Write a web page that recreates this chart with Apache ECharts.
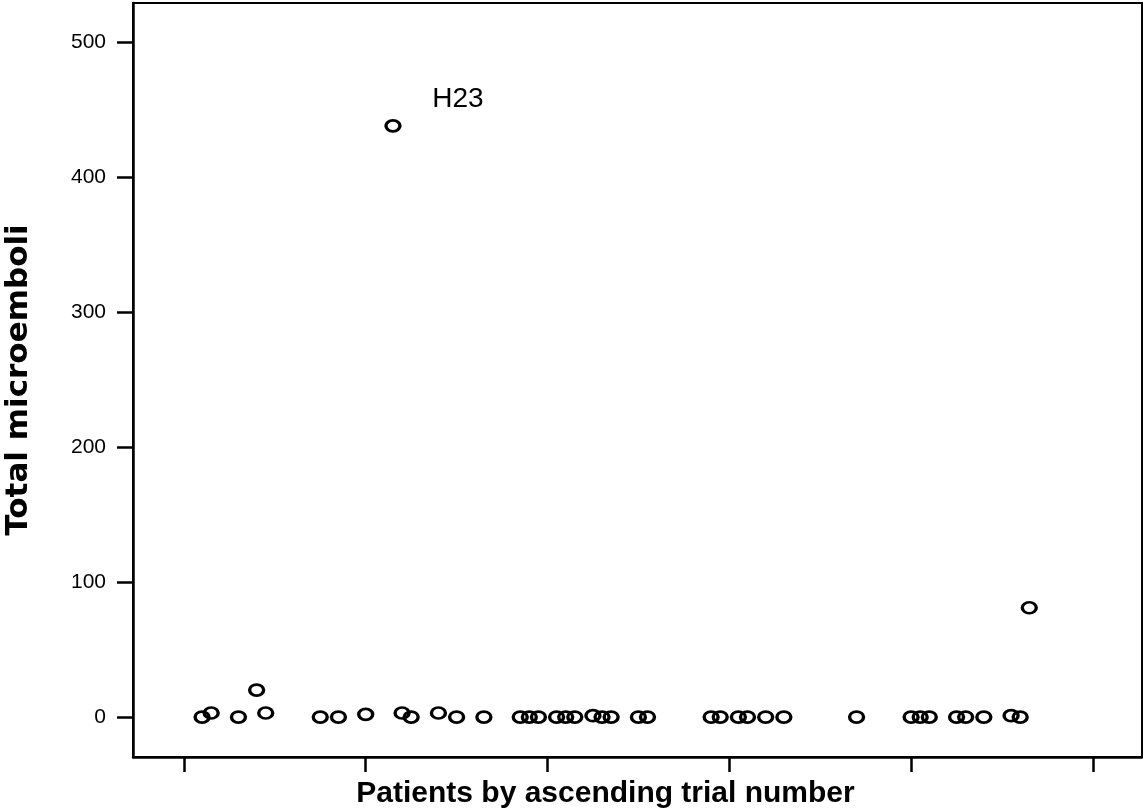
<!DOCTYPE html>
<html>
<head>
<meta charset="utf-8">
<script src="https://cdn.jsdelivr.net/npm/echarts@6/dist/echarts.min.js"></script>
<style>
	html, body { margin: 0; padding: 0; background: #fff; }
	#main { width: 1143px; height: 810px; }
</style>
</head>
<body>
<div id="main"></div>
<script>
// trial number of each patient (ascending) and total microemboli count
var trialNo = [2, 3, 6, 8, 9, 15, 17, 20, 23, 24, 25, 28, 30, 33, 37, 38, 39, 41, 42, 43, 45, 46, 47, 50, 51,
	58, 59, 61, 62, 64, 66, 74, 80, 81, 82, 85, 86, 88, 91, 92, 93];
var emboli = [0, 3, 0, 20, 3, 0, 0, 2, 438, 3, 0, 3, 0, 0, 0, 0, 0, 0, 0, 0, 1, 0, 0, 0, 0,
	0, 0, 0, 0, 0, 0, 0, 0, 0, 0, 0, 0, 0, 1, 0, 81];
var yTicks = [0, 100, 200, 300, 400, 500];
var xTicks = [0, 20, 40, 60, 80, 100];
var labelled = { 23: 'H23' };

var font = '"Liberation Sans", Arial, sans-serif';

var points = trialNo.map(function (t, i) {
	var item = { value: [t, emboli[i]] };
	if (labelled[t]) {
		item.label = {
			show: true,
			formatter: labelled[t],
			position: [48, -20],
			align: 'left',
			verticalAlign: 'middle',
			fontSize: 28,
			fontFamily: font,
			color: '#000',
			opacity: 1
		};
	}
	return item;
});

var myChart = echarts.init(document.getElementById('main'));

var option = {
	animation: false,
	backgroundColor: '#fff',
	grid: {
		left: 133,
		right: 1,
		top: 3,
		bottom: 53,
		outerBoundsMode: 'none',
		containLabel: false,
		show: true,
		borderColor: '#000',
		borderWidth: 2
	},
	xAxis: {
		type: 'value',
		min: -5.6,
		max: 105.4,
		name: 'Patients by ascending trial number',
		nameLocation: 'middle',
		nameGap: 22,
		nameTextStyle: { fontSize: 30, fontWeight: 'bold', fontFamily: font, color: '#000', padding: [0, 64, 0, 0] },
		axisLine: { show: true, onZero: false, lineStyle: { color: '#000', width: 2.5 } },
		axisTick: { show: true, length: 15, customValues: xTicks, lineStyle: { color: '#000', width: 2.5 } },
		axisLabel: { show: false },
		splitLine: { show: false }
	},
	yAxis: {
		type: 'value',
		min: -29.6,
		max: 529,
		name: 'Total microemboli',
		nameLocation: 'middle',
		nameGap: 99,
		nameRotate: 90,
		nameTextStyle: { fontSize: 31, fontWeight: 'bold', fontFamily: '"DejaVu Sans", sans-serif', color: '#000' },
		axisLine: { show: true, onZero: false, lineStyle: { color: '#000', width: 2.5 } },
		axisTick: { show: true, length: 16, customValues: yTicks, lineStyle: { color: '#000', width: 2.5 } },
		axisLabel: { customValues: yTicks, margin: 27, fontSize: 21, fontFamily: font, color: '#000' },
		splitLine: { show: false }
	},
	series: [{
		type: 'scatter',
		symbol: 'circle',
		symbolSize: [14, 11],
		itemStyle: { color: 'rgba(0,0,0,0)', borderColor: '#000', borderWidth: 3, opacity: 1 },
		data: points
	}]
};

myChart.setOption(option);
</script>
</body>
</html>
